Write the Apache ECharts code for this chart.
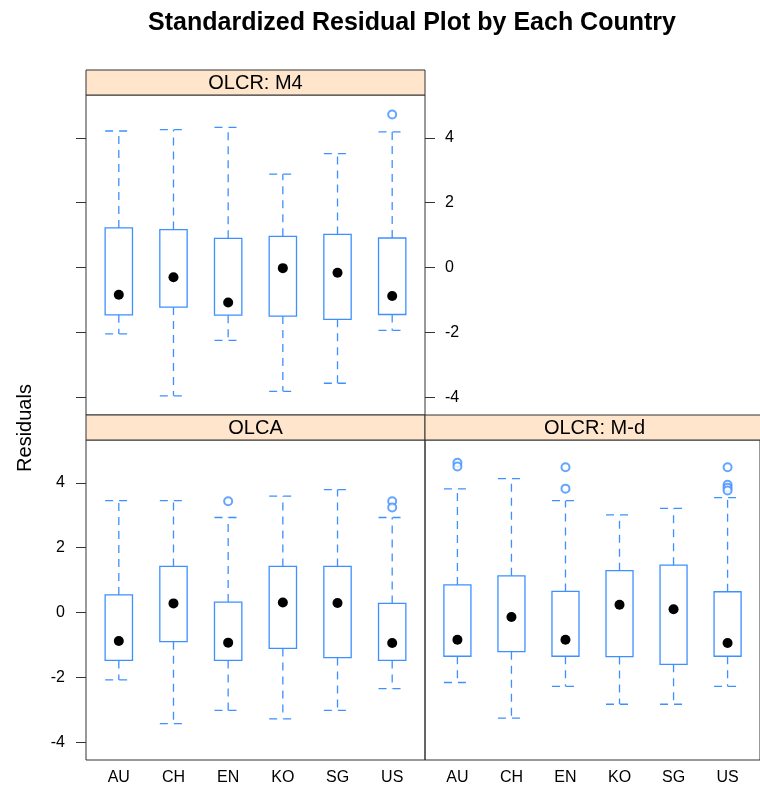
<!DOCTYPE html>
<html>
<head>
<meta charset="utf-8">
<title>Standardized Residual Plot by Each Country</title>
<script src="https://cdn.jsdelivr.net/npm/echarts@6/dist/echarts.min.js"></script>
<style>
  html, body { margin: 0; padding: 0; background: #ffffff; }
  #chart { width: 760px; height: 789px; }
</style>
</head>
<body>
<div id="chart"></div>
<script>
// Countries on the x axis of every panel
const countries = ['AU', 'CH', 'EN', 'KO', 'SG', 'US'];
const yTicks = [-4, -2, 0, 2, 4];

// Five-number summaries per country: [lower whisker, Q1, median, Q3, upper whisker]
const m4Stats = [
  [-2.05, -1.46, -0.84, 1.22, 4.21],
  [-3.96, -1.22, -0.30, 1.17, 4.25],
  [-2.25, -1.47, -1.08, 0.90, 4.32],
  [-3.82, -1.50, -0.02, 0.96, 2.88],
  [-3.57, -1.60, -0.16, 1.02, 3.51],
  [-1.94, -1.45, -0.88, 0.91, 4.18]
];
const m4Outliers = [['US', 4.72]];

const olcaStats = [
  [-2.08, -1.48, -0.88, 0.54, 3.45],
  [-3.43, -0.90, 0.28, 1.42, 3.45],
  [-3.02, -1.48, -0.93, 0.32, 2.93],
  [-3.28, -1.11, 0.31, 1.42, 3.59],
  [-3.02, -1.39, 0.29, 1.42, 3.79],
  [-2.35, -1.48, -0.94, 0.28, 2.93]
];
const olcaOutliers = [['EN', 3.43], ['US', 3.43], ['US', 3.24]];

const mdStats = [
  [-2.16, -1.35, -0.84, 0.85, 3.81],
  [-3.26, -1.21, -0.14, 1.13, 4.13],
  [-2.28, -1.35, -0.84, 0.65, 3.45],
  [-2.83, -1.36, 0.24, 1.29, 3.01],
  [-2.83, -1.60, 0.10, 1.46, 3.21],
  [-2.28, -1.35, -0.94, 0.64, 3.54]
];
const mdOutliers = [
  ['AU', 4.62], ['AU', 4.50],
  ['EN', 4.48], ['EN', 3.82],
  ['US', 4.48], ['US', 3.94], ['US', 3.85], ['US', 3.76]
];

// Panel definitions (strip label, stats, outliers)
const panels = [
  { name: 'OLCR: M4', stats: m4Stats, outliers: m4Outliers },
  { name: 'OLCA', stats: olcaStats, outliers: olcaOutliers },
  { name: 'OLCR: M-d', stats: mdStats, outliers: mdOutliers }
];

// Layout of the trellis panels in pixels
const PANEL_W = 339, PANEL_H = 320, STRIP_H = 25;
const panelBoxes = [
  { left: 86, top: 95 },
  { left: 86, top: 440 },
  { left: 425, top: 440 }
];
const Y_MIN = -4.55, Y_MAX = 5.32;
const X_MIN = 0.4, X_MAX = 6.6;

const BLUE = '#3d90ff';
const FONT = '"Liberation Sans", Arial, Helvetica, sans-serif';

function dashed() {
  return { stroke: BLUE, lineWidth: 1.3, lineDash: [8, 6], fill: null };
}

function renderBox(params, api) {
  const x = api.value(0);
  const low = api.coord([x, api.value(1)]);
  const q1 = api.coord([x, api.value(2)]);
  const med = api.coord([x, api.value(3)]);
  const q3 = api.coord([x, api.value(4)]);
  const high = api.coord([x, api.value(5)]);
  const w = api.size([0.5, 0])[0];
  const cx = med[0];
  return {
    type: 'group',
    children: [
      { type: 'line', shape: { x1: cx, y1: q3[1], x2: cx, y2: high[1] }, style: dashed() },
      { type: 'line', shape: { x1: cx - w / 2, y1: high[1], x2: cx + w / 2, y2: high[1] }, style: dashed() },
      { type: 'line', shape: { x1: cx, y1: q1[1], x2: cx, y2: low[1] }, style: dashed() },
      { type: 'line', shape: { x1: cx - w / 2, y1: low[1], x2: cx + w / 2, y2: low[1] }, style: dashed() },
      { type: 'rect', shape: { x: cx - w / 2, y: q3[1], width: w, height: q1[1] - q3[1] },
        style: { stroke: BLUE, lineWidth: 1.3, fill: 'rgba(255,255,255,0)' } },
      { type: 'circle', shape: { cx: cx, cy: med[1], r: 5 }, style: { fill: '#000000', stroke: null } }
    ]
  };
}

const grids = [], xAxes = [], yAxes = [], series = [], graphics = [];

panels.forEach(function (p, i) {
  const box = panelBoxes[i];
  grids.push({
    left: box.left, top: box.top, width: PANEL_W, height: PANEL_H,
    show: true, borderColor: '#333333', borderWidth: 1, backgroundColor: 'transparent'
  });
  xAxes.push({
    type: 'value', gridIndex: i, min: X_MIN, max: X_MAX,
    axisLine: { show: false }, axisTick: { show: false }, splitLine: { show: false },
    axisLabel: {
      show: i !== 0,
      customValues: countries.map(function (c, k) { return k + 1; }),
      formatter: function (v) { return countries[Math.round(v) - 1] || ''; },
      color: '#000000', fontSize: 16, fontFamily: FONT, margin: 10
    }
  });

  const tickCommon = {
    show: true, length: 10, inside: false, customValues: yTicks,
    lineStyle: { color: '#333333', width: 1 }
  };
  const labelCommon = {
    customValues: yTicks, color: '#000000', fontSize: 16, fontFamily: FONT
  };
  if (i === 0) {
    // top panel: ticks on both sides, labels on the right
    yAxes.push({
      type: 'value', gridIndex: i, min: Y_MIN, max: Y_MAX, position: 'left',
      axisLine: { show: false }, splitLine: { show: false },
      axisTick: tickCommon, axisLabel: Object.assign({}, labelCommon, { show: false })
    });
    yAxes.push({
      type: 'value', gridIndex: i, min: Y_MIN, max: Y_MAX, position: 'right',
      axisLine: { show: false }, splitLine: { show: false },
      axisTick: tickCommon, axisLabel: Object.assign({}, labelCommon, { margin: 20 })
    });
  } else if (i === 1) {
    yAxes.push({
      type: 'value', gridIndex: i, min: Y_MIN, max: Y_MAX, position: 'left',
      axisLine: { show: false }, splitLine: { show: false },
      axisTick: tickCommon, axisLabel: Object.assign({}, labelCommon, { margin: 21 })
    });
  } else {
    yAxes.push({
      type: 'value', gridIndex: i, min: Y_MIN, max: Y_MAX, position: 'left',
      axisLine: { show: false }, splitLine: { show: false },
      axisTick: { show: false }, axisLabel: { show: false }
    });
  }
  const yIndex = yAxes.length - 1;

  series.push({
    type: 'custom', xAxisIndex: i, yAxisIndex: yIndex,
    renderItem: renderBox,
    encode: { x: 0, y: [1, 2, 3, 4, 5] },
    data: p.stats.map(function (s, k) { return [k + 1].concat(s); }),
    z: 2
  });
  series.push({
    type: 'scatter', xAxisIndex: i, yAxisIndex: yIndex,
    symbol: 'emptyCircle', symbolSize: 8,
    itemStyle: { color: BLUE, borderColor: BLUE, borderWidth: 1.8 },
    data: p.outliers.map(function (o) { return [countries.indexOf(o[0]) + 1, o[1]]; }),
    z: 3
  });

  // strip above each panel
  graphics.push({
    type: 'rect',
    shape: { x: box.left, y: box.top - STRIP_H, width: PANEL_W, height: STRIP_H },
    style: { fill: '#ffe5cc', stroke: '#333333', lineWidth: 1 },
    z: 10
  });
  graphics.push({
    type: 'text',
    x: box.left + PANEL_W / 2, y: box.top - STRIP_H / 2 + 1,
    style: { text: p.name, fill: '#000000', font: '20px ' + FONT, align: 'center', verticalAlign: 'middle' },
    z: 11
  });
});

graphics.push({
  type: 'text', x: 412, y: 23,
  style: { text: 'Standardized Residual Plot by Each Country', fill: '#000000',
    font: 'bold 25px ' + FONT, align: 'center', verticalAlign: 'middle' },
  z: 11
});
graphics.push({
  type: 'text', x: 25, y: 428, rotation: Math.PI / 2,
  style: { text: 'Residuals', fill: '#000000', font: '20px ' + FONT, align: 'center', verticalAlign: 'middle' },
  z: 11
});

const chart = echarts.init(document.getElementById('chart'), null, { renderer: 'canvas' });
chart.setOption({
  backgroundColor: '#ffffff',
  animation: false,
  grid: grids,
  xAxis: xAxes,
  yAxis: yAxes,
  series: series,
  graphic: graphics
});
</script>
</body>
</html>
